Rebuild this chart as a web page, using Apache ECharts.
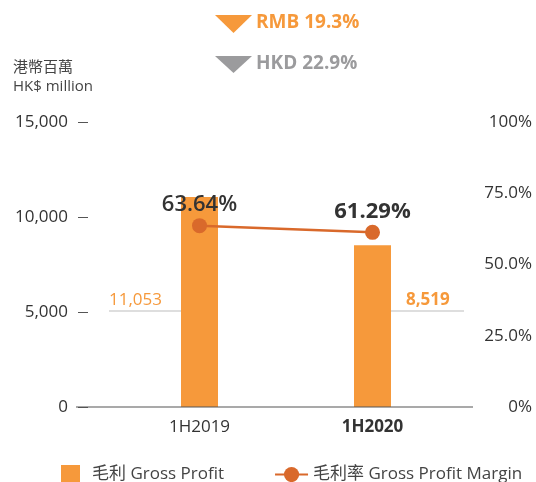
<!DOCTYPE html>
<html>
<head>
<meta charset="utf-8">
<script src="https://cdn.jsdelivr.net/npm/echarts@6/dist/echarts.min.js"></script>
<style>
  html, body { margin: 0; padding: 0; background: #fff; }
  #main { width: 536px; height: 482px; }
</style>
</head>
<body>
<div id="main"></div>
<script>
// periods
var periods = ['1H2019', '1H2020'];
// 毛利 Gross Profit (HK$ million)
var grossProfit = [11053, 8519];
// 毛利率 Gross Profit Margin (%)
var grossMargin = [63.64, 61.29];
// change labels on top
var changeLabels = ['RMB 19.3%', 'HKD 22.9%'];
var leftTicks = [0, 5000, 10000, 15000];
var rightTicks = ['0%', '25.0%', '50.0%', '75.0%', '100%'];

var FONT = '"Open Sans", "Noto Sans CJK TC", sans-serif';
var ORANGE = '#F6993B';
var LINE = '#D9692B';
var GREY = '#9B9B9D';
var TXT = '#333';
var FS = 17;

var myChart = echarts.init(document.getElementById('main'));

function fmt(v) {
    return v.toLocaleString('en-US');
}

// bar labels sit on a short grey rule, left of the first bar, right of the second
var barData = grossProfit.map(function (v, i) {
    var first = i === 0;
    return {
        value: v,
        label: {
            show: true,
            position: first ? 'insideBottomLeft' : 'insideBottomRight',
            distance: 0,
            align: 'left',
            verticalAlign: 'bottom',
            offset: first ? [-72, -95] : [0, -95],
            formatter: function (p) { return '{v|' + fmt(p.value) + '}\n{u|}'; },
            rich: {
                v: { fontFamily: FONT, fontSize: FS, color: ORANGE, fontWeight: first ? 'normal' : 'bold', lineHeight: 20, padding: first ? 0 : [0, 0, 0, 15] },
                u: { width: first ? 72 : 73, height: 1, lineHeight: 2, backgroundColor: '#BDBDBD' }
            }
        }
    };
});

var lineData = grossMargin.map(function (v, i) {
    return {
        value: v,
        label: {
            show: true,
            position: 'top',
            distance: 2,
            formatter: function (p) { return p.value.toFixed(2) + '%'; },
            fontFamily: FONT,
            fontSize: 22,
            fontWeight: i === 0 ? 600 : 'bold',
            color: TXT
        }
    };
});

var option = {
    animation: false,
    textStyle: { fontFamily: FONT },
    title: {
        text: '港幣百萬\nHK$ million',
        left: 13,
        top: 58,
        padding: 0,
        textStyle: { fontFamily: FONT, fontSize: 15, fontWeight: 'normal', color: '#444', lineHeight: 19 }
    },
    legend: {
        left: 56,
        top: 460,
        itemWidth: 33,
        itemHeight: 19,
        itemGap: 50,
        textStyle: { fontFamily: FONT, fontSize: FS, color: '#444' },
        data: [
            { name: '毛利 Gross Profit', icon: 'path://M0,0h21v21h-21z' },
            { name: '毛利率 Gross Profit Margin' }
        ]
    },
    grid: { left: 113, right: 77, top: 122, bottom: 75 },
    xAxis: {
        type: 'category',
        data: periods,
        axisLine: { show: false },
        axisTick: { show: false },
        axisLabel: {
            margin: 12,
            fontFamily: FONT,
            fontSize: FS,
            color: TXT,
            formatter: function (v, i) { return i === 1 ? '{b|' + v + '}' : v; },
            rich: { b: { fontFamily: FONT, fontSize: FS, fontWeight: 'bold', color: TXT } }
        }
    },
    yAxis: [
        {
            type: 'value',
            min: leftTicks[0],
            max: leftTicks[leftTicks.length - 1],
            interval: 5000,
            offset: 25,
            axisLine: { show: false },
            axisTick: { show: true, length: 10, lineStyle: { color: '#555', width: 1 } },
            splitLine: { show: false },
            axisLabel: {
                margin: 20,
                fontFamily: FONT,
                fontSize: FS,
                color: TXT,
                formatter: function (v) { return fmt(v); }
            }
        },
        {
            type: 'value',
            min: 0,
            max: 100,
            interval: 25,
            position: 'right',
            axisLine: { show: false },
            axisTick: { show: false },
            splitLine: { show: false },
            axisLabel: {
                margin: 73,
                align: 'right',
                fontFamily: FONT,
                fontSize: FS,
                color: TXT,
                formatter: function (v) { return rightTicks[Math.round(v / 25)]; }
            }
        }
    ],
    graphic: [
        // baseline
        { type: 'line', shape: { x1: 76, y1: 407, x2: 473, y2: 407 }, style: { stroke: '#555', lineWidth: 1.2 }, z: 100 },
        // change indicators
        { type: 'polygon', shape: { points: [[215, 15], [252, 15], [233.5, 33]] }, style: { fill: ORANGE } },
        { type: 'text', left: 256, top: 13, style: { text: changeLabels[0], fill: ORANGE, font: 'bold 19px ' + FONT } },
        { type: 'polygon', shape: { points: [[215, 56], [252, 56], [233.5, 73]] }, style: { fill: GREY } },
        { type: 'text', left: 256, top: 54, style: { text: changeLabels[1], fill: GREY, font: 'bold 19px ' + FONT } }
    ],
    series: [
        {
            name: '毛利 Gross Profit',
            type: 'bar',
            yAxisIndex: 0,
            barWidth: 37,
            itemStyle: { color: ORANGE },
            data: barData
        },
        {
            name: '毛利率 Gross Profit Margin',
            type: 'line',
            yAxisIndex: 1,
            symbol: 'circle',
            symbolSize: 15,
            itemStyle: { color: LINE },
            lineStyle: { color: LINE, width: 2.5 },
            data: lineData
        }
    ]
};

myChart.setOption(option);
</script>
</body>
</html>
